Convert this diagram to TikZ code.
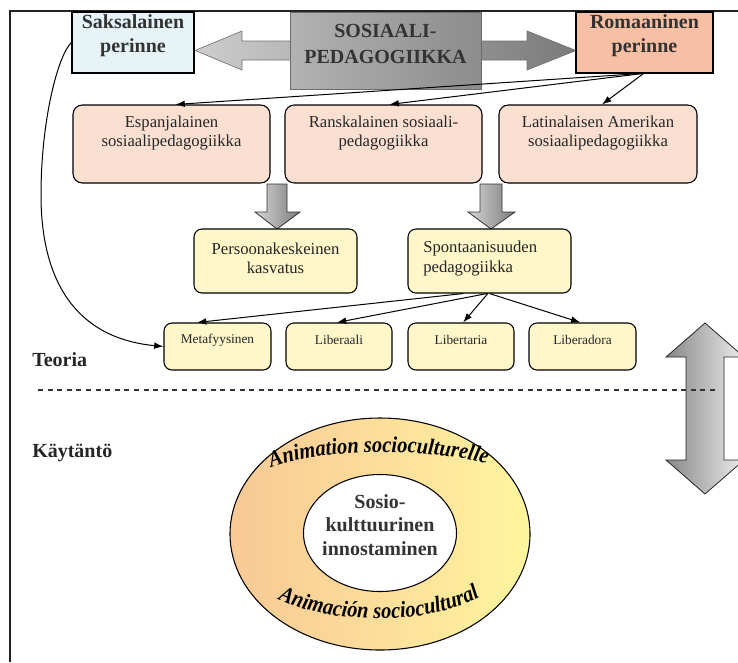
\documentclass[tikz,border=0pt]{standalone}
\usepackage{fontspec}
\setmainfont{Liberation Serif}
\newfontfamily\wordartfont[FakeStretch=0.9]{Liberation Serif}
\usetikzlibrary{fit,calc,arrows.meta,decorations.text,shapes.geometric}
\definecolor{frame}{HTML}{222222}
\definecolor{blueF}{HTML}{E6F4F8}
\definecolor{salmon}{HTML}{F7C0A4}
\definecolor{pinkF}{HTML}{FBE0D2}
\definecolor{yelF}{HTML}{FFF6C9}
\definecolor{txt}{HTML}{262626}
\definecolor{hdtxt}{HTML}{333333}
\definecolor{ellL}{HTML}{F9C896}
\definecolor{ellR}{HTML}{FFF59E}
\definecolor{gLight}{HTML}{CDCDCD}
\definecolor{gDark}{HTML}{7A7A7A}
\begin{document}
\begin{tikzpicture}[x=0.75pt,y=-0.75pt,
  sqbox/.style={draw=black, line width=0.8pt, inner sep=0pt, align=center,
     font=\bfseries\fontsize{15}{18}\selectfont, text=hdtxt},
  rbox/.style={draw=black, line width=0.8pt, rounded corners=7pt, inner sep=0pt},
  pinkbox/.style={rbox, fill=pinkF},
  yelbox/.style={rbox, fill=yelF, rounded corners=6pt},
  midtxt/.style={inner sep=0pt, align=center, text=txt, font=\fontsize{12.5}{14.5}\selectfont},
  smalltxt/.style={inner sep=0pt, text=txt, font=\fontsize{10}{12}\selectfont},
  sidetxt/.style={inner sep=0pt, anchor=west, text=txt, font=\bfseries\fontsize{15}{18}\selectfont},
  arr/.style={-{Latex[length=7pt,width=5pt]}, line width=0.75pt, draw=black},
  grayarrow/.style={left color=gLight!80!white, right color=gDark, draw=black!80, line width=0.6pt}
]
\useasboundingbox (0,0) rectangle (738,662);
\clip (0,0) rectangle (738,662);
\fill[white] (0,0) rectangle (738,662);

% frame
\coordinate (fA) at (10,662);
\coordinate (fB) at (10,11);
\coordinate (fC) at (738,11);
\draw[line width=1pt, draw=frame] (fA) -- (fB) -- (fC);

% big horizontal double arrow
\path[left color=gLight, right color=gDark, draw=gray!90!black, line width=0.5pt]
  (195,50.5) -- (242,31) -- (242,41) -- (527,41) -- (527,31) -- (576,50.5)
  -- (527,70) -- (527,60) -- (242,60) -- (242,70) -- cycle;
\node[fit={(290,12)(481,89)}, inner sep=0pt, left color=gray!60, right color=gray!90,
  draw=gray!85!black, line width=0.5pt, align=center, text=hdtxt,
  font=\bfseries\fontsize{15}{19}\selectfont] (sp) {SOSIAALI-\\PEDAGOGIIKKA};

% top boxes
\node[sqbox, fill=blueF, fit={(72,12)(194,73)}] (sak) {Saksalainen\\perinne};
\node[sqbox, fill=salmon, fit={(576,12)(713,73)}] (rom) {Romaaninen\\perinne};

% row 2
\node[pinkbox, fit={(73,105)(270,183)}] (esp) {};
\node[pinkbox, fit={(285,105)(482,183)}] (ran) {};
\node[pinkbox, fit={(499,105)(697,183)}] (lat) {};
\node[midtxt] (espT) at (171.5,133) {Espanjalainen\\sosiaalipedagogiikka};
\node[midtxt] (ranT) at (383.5,133) {Ranskalainen sosiaali-\\pedagogiikka};
\node[midtxt] (latT) at (598,133) {Latinalaisen Amerikan\\sosiaalipedagogiikka};

\draw[arr] ($(rom.south)+(-4,0)$) -- ($(esp.north west)!0.52!(esp.north east)$);
\draw[arr] ($(rom.south)+(-2,0)$) -- ($(ran.north west)!0.53!(ran.north east)$);
\draw[arr] ($(rom.south)+(-1,0)$) -- ($(lat.north west)!0.52!(lat.north east)$);

% gray down arrows
\path[grayarrow] (267,184) -- (287,184) -- (287,212) -- (300,212) -- (277,229)
  -- (255,212) -- (267,212) -- cycle;
\path[grayarrow] (480,184) -- (502,184) -- (502,212) -- (515,212) -- (491,229)
  -- (468,212) -- (480,212) -- cycle;

% row 3
\node[yelbox, fit={(194,229)(357,293)}] (per) {};
\node[yelbox, fit={(408,229)(571,293)}] (spo) {};
\node[midtxt] (perT) at (275.5,258.5) {Persoonakeskeinen\\kasvatus};
\node[midtxt, anchor=west, align=left] (spoT) at (423,258.5) {Spontaanisuuden\\pedagogiikka};

% row 4
\node[yelbox, fit={(164,323)(271,370)}] (met) {};
\node[yelbox, fit={(286,323)(392,370)}] (lib) {};
\node[yelbox, fit={(408,323)(514,370)}] (lbt) {};
\node[yelbox, fit={(529,323)(636,370)}] (lbd) {};
\node[smalltxt] (metT) at (217.5,340) {Metafyysinen};
\node[smalltxt] (libT) at (339,340) {Liberaali};
\node[smalltxt] (lbtT) at (461,340) {Libertaria};
\node[smalltxt] (lbdT) at (582.5,340) {Liberadora};

\draw[arr] ($(spo.south west)!0.34!(spo.south east)$) -- ($(met.north west)!0.31!(met.north east)$);
\draw[arr] ($(spo.south west)!0.485!(spo.south east)$) -- ($(lib.north west)!0.48!(lib.north east)$);
\draw[arr] ($(spo.south west)!0.49!(spo.south east)$) -- ($(lbt.north west)!0.52!(lbt.north east)$);
\draw[arr] ($(spo.south west)!0.50!(spo.south east)$) -- ($(lbd.north west)!0.48!(lbd.north east)$);

% curved arrow from Saksalainen to Metafyysinen
\draw[arr] (sak.west) .. controls (58,55) and (41,120) .. (41,195)
  .. controls (41,280) and (75,338) .. (met.west);

% side labels
\node[sidetxt] (teo) at (32,360) {Teoria};
\node[sidetxt] (kay) at (32,453) {Käytäntö};

% vertical double arrow
\path[left color=gDark!90, right color=gray!15, draw=black!85, line width=0.6pt]
  (705,323) -- (744,357) -- (724,357) -- (724,460) -- (744,460) -- (705,494)
  -- (666,460) -- (686,460) -- (686,357) -- (666,357) -- cycle;

% dashed separator
\coordinate (dL) at (38,390);
\coordinate (dR) at (718,390);
\draw[draw=black!80, line width=0.8pt, dash pattern=on 3.8pt off 3.4pt] (dL) -- (dR);

% ellipse
\node[ellipse, draw=black, line width=0.8pt, left color=ellL, right color=ellR,
  minimum width=225pt, minimum height=174pt, inner sep=0pt] (outer) at (380,534) {};
\node[ellipse, draw=black, line width=0.8pt, fill=white,
  minimum width=114.75pt, minimum height=87.75pt, inner sep=0pt] (inner) at (380,533) {};
\node[inner sep=0pt, align=center, text=hdtxt,
  font=\bfseries\fontsize{15}{17.6}\selectfont] (innerT) at (380,525)
  {Sosio-\\kulttuurinen\\innostaminen};

\path[decorate, decoration={text along path, text align=center,
  text={|\wordartfont\fontsize{17}{17}\selectfont\bfseries\itshape|Animation socioculturelle}}]
  (266,470) .. controls (320,447) and (435,447) .. (492,466);
\path[decorate, decoration={text along path, text align=center,
  text={|\wordartfont\fontsize{17}{17}\selectfont\bfseries\itshape|Animación sociocultural}}]
  (274,597) .. controls (328,626) and (432,626) .. (484,595);
\end{tikzpicture}
\end{document}
